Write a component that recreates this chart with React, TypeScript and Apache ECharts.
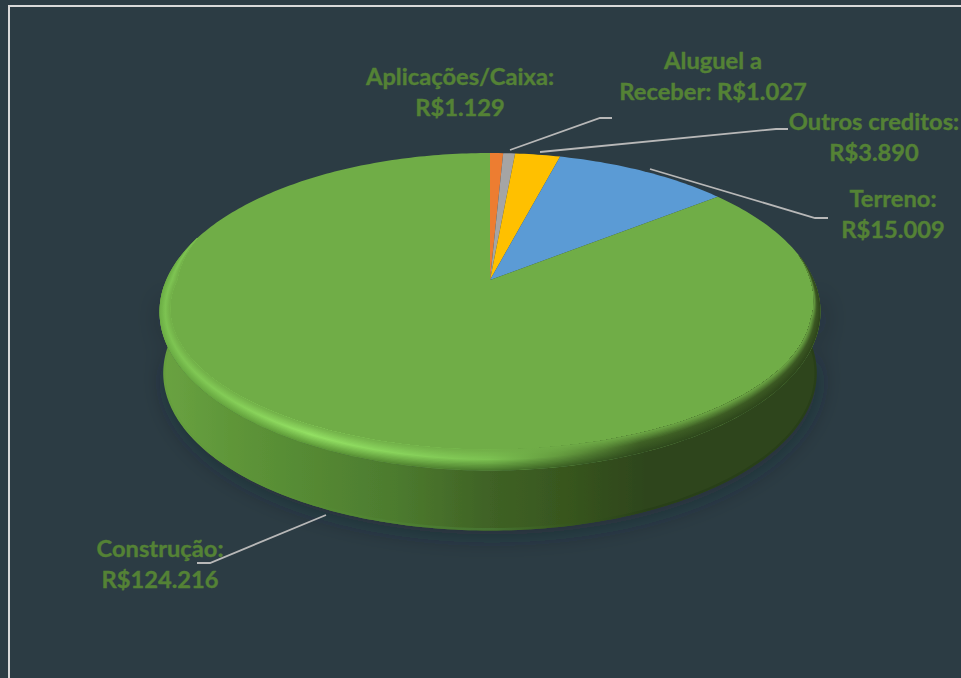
import React, { useEffect, useRef } from "react";
import * as echarts from "echarts";

const categories = ["Aplicações/Caixa", "Aluguel a Receber", "Outros creditos", "Terreno", "Construção"];
const values = [1129, 1027, 3890, 15009, 124216];
const sliceColors = ["#ED7D31", "#A5A5A5", "#FFC000", "#5B9BD5", "#70AD47"];
const labelBreaks = [":\n", ": ", ":\n", ":\n", ":\n"];
const labelSplitName = ["", "Aluguel a\nReceber", "", "", ""];

// layout of the labels and their leader lines
const labelCenters = [[460, 91], [713, 75], [874, 136], [893, 213], [160, 563]];
const leaders = [
  null,
  [[510, 150], [600, 118], [612, 118]],
  [[540, 152], [776, 129], [788, 129]],
  [[650, 169], [815, 218], [828, 218]],
  [[326, 515], [210, 563], [197, 563]],
];

const BG = "#2C3C44";
const TEXT = "#548235";
const LEADER = "#B8B8B8";
const P = 0.2;
const CX = 490;
const TOP = { cy: 280, A: 323.8, B: 152.4 };
const BOTTOM = { cy: 343, A: 319, B: 150 };

const rad = (d: number) => (d * Math.PI) / 180;
const project = (deg: number, plane: { cy: number; A: number; B: number }) => {
  const u = Math.sin(rad(deg));
  const v = Math.cos(rad(deg));
  const w = 1 + P * v;
  return [CX + (plane.A * u) / w, plane.cy - (plane.B * v) / w];
};
const arc = (a: number, b: number, plane: any) => {
  const pts: number[][] = [];
  const n = Math.max(1, Math.ceil(Math.abs(b - a)));
  for (let i = 0; i <= n; i++) pts.push(project(a + ((b - a) * i) / n, plane));
  return pts;
};

const total = values.reduce((s, v) => s + v, 0);
const angleRange = (i: number) => {
  let sum = 0;
  for (let k = 0; k < i; k++) sum += values[k];
  return [(sum / total) * 360, ((sum + values[i]) / total) * 360];
};
const money = (v: number) => "R$" + String(v).replace(/\B(?=(\d{3})+$)/g, ".");
const labelText = (i: number) =>
  (labelSplitName[i] || categories[i]) + labelBreaks[i] + money(values[i]);

const hex = (c: string) => [1, 3, 5].map((o) => parseInt(c.slice(o, o + 2), 16));
const mix = (a: string, b: string, t: number) => {
  const x = hex(a);
  const y = hex(b);
  return `rgb(${x.map((q, i) => Math.round(q + (y[i] - q) * t)).join(",")})`;
};

const GRAD_L = 160;
const GRAD_R = 820;
const gradX = [160, 230, 310, 400, 490, 560, 640, 820];
const rimOuter = ["#6CAE45", "#66A53F", "#5F9C3A", "#558A33", "#4A7A2D", "#3D6325", "#2F4A1D", "#2D441A"];
const rimRidge = ["#7CC251", "#84CD57", "#93E063", "#88D35B", "#7CC251", "#639A3E", "#3F6125", "#3A5622"];
const rimFace = "#70AD47";

const xGradient = (stops: { x: number; c: string }[]) =>
  new echarts.graphic.LinearGradient(
    GRAD_L, 0, GRAD_R, 0,
    stops.map((s) => ({ offset: (s.x - GRAD_L) / (GRAD_R - GRAD_L), color: s.c })),
    true
  );

const wallStops = [
  { x: 160, c: "#6AA342" }, { x: 230, c: "#5F9639" }, { x: 300, c: "#568B34" }, { x: 400, c: "#4C7A2E" },
  { x: 490, c: "#3F6225" }, { x: 560, c: "#38571F" }, { x: 650, c: "#2D441A" }, { x: 820, c: "#2D441A" },
];
const baseStops = [
  { x: 160, c: "#66A03E" }, { x: 300, c: "#568C34" }, { x: 490, c: "#467430" }, { x: 560, c: "#38591F" },
  { x: 650, c: "#283F18" }, { x: 820, c: "#283F18" },
];

const rimStrip = (a: number, b: number, k: number) => {
  const pts: number[][] = [];
  for (let d = a; d <= b; d += 1) {
    const [x, y] = project(d, TOP);
    const cos = Math.cos(rad(d));
    const right = d < 180;
    const m = right
      ? Math.min(1, Math.max(0, (0.17 - cos) / 0.45))
      : Math.min(1, Math.max(0, (0.3 - cos) / 0.3));
    const dx = -(right ? 9 : 11) * k * Math.sin(rad(d)) * m;
    const dy = cos < 0 ? 21 * k * cos * m : 0;
    pts.push([x + dx, y + dy]);
  }
  return pts;
};

const rimColor = (k: number) => {
  const stops = gradX.map((x, i) => {
    const c =
      k < 0.5
        ? mix(rimOuter[i], rimRidge[i], k / 0.5)
        : mix(rimRidge[i], rimFace, (k - 0.5) / 0.5);
    return { x, c };
  });
  return xGradient(stops);
};

const renderBody = (params: any, api: any) => {
  const [a, b] = angleRange(params.dataIndex);
  const from = Math.max(a, 92);
  const to = Math.min(b, 268);
  if (to <= from) return { type: "group", children: [] };
  const up = arc(from, to, TOP);
  const down = arc(to, from, BOTTOM);
  return {
    type: "group",
    children: [
      {
        type: "polygon",
        shape: { points: [...up, ...down] },
        style: {
          fill: xGradient(wallStops),
          shadowBlur: 24,
          shadowOffsetX: 2,
          shadowOffsetY: 4,
          shadowColor: "rgba(30,36,44,0.45)",
        },
        silent: true,
      },
      {
        type: "polyline",
        shape: { points: arc(from, to, { ...BOTTOM, cy: BOTTOM.cy - 1.2 }) },
        style: { stroke: xGradient(baseStops), lineWidth: 2.4, fill: "none" },
        silent: true,
      },
    ],
  };
};

const renderFace = (params: any, api: any) => {
  const i = params.dataIndex;
  const [a, b] = angleRange(i);
  const children: any[] = [
    {
      type: "polygon",
      shape: { points: [[CX, TOP.cy], ...arc(a, b, TOP)] },
      style: { fill: sliceColors[i] },
      silent: true,
    },
  ];
  const rimFrom = Math.max(a, 80);
  const rimTo = Math.min(b, 287);
  if (rimTo > rimFrom) {
    const strips = 16;
    const inner = rimStrip(rimFrom, rimTo, 1).reverse();
    for (let s = 0; s < strips; s++) {
      const k = s / strips;
      children.push({
        type: "polygon",
        shape: { points: [...rimStrip(rimFrom, rimTo, k), ...inner] },
        style: { fill: rimColor(k) },
        silent: true,
      });
    }
  }
  const leader = leaders[i];
  if (leader) {
    children.push({
      type: "polyline",
      shape: { points: leader },
      style: { stroke: LEADER, lineWidth: 1.8, fill: "none" },
      silent: true,
    });
  }
  const [lx, ly] = labelCenters[i];
  children.push({
    type: "text",
    x: lx,
    y: ly,
    style: {
      text: labelText(i),
      fill: TEXT,
      stroke: TEXT,
      lineWidth: 0.4,
      font: "700 23.7px Lato, 'Open Sans', sans-serif",
      lineHeight: 31,
      align: "center",
      verticalAlign: "middle",
    },
    silent: true,
  });
  return { type: "group", children };
};

export default function App() {
  const ref = useRef<HTMLDivElement>(null);
  useEffect(() => {
    const chart = echarts.init(ref.current!, null, { renderer: "svg" });
    const data = values.map((v, i) => ({ name: categories[i], value: [v] }));
    chart.setOption({
      animation: false,
      backgroundColor: BG,
      graphic: [
        {
          type: "rect",
          z: -1,
          silent: true,
          shape: { x: 9, y: 6, width: 960, height: 680 },
          style: { fill: "transparent", stroke: "#D9D9D9", lineWidth: 2 },
        },
      ],
      series: [
        { type: "custom", coordinateSystem: "none", z: 1, silent: true, data, renderItem: renderBody },
        { type: "custom", coordinateSystem: "none", z: 2, silent: true, data, renderItem: renderFace },
      ],
    });
    return () => chart.dispose();
  }, []);
  return (
    <div
      ref={ref}
      style={{ position: "absolute", left: 0, top: 0, width: 961, height: 678 }}
    />
  );
}
